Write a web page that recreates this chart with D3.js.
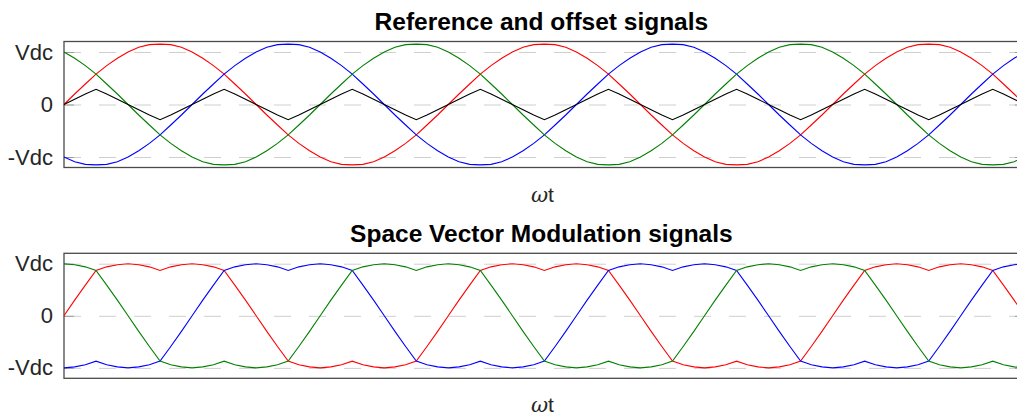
<!DOCTYPE html>
<html>
<head>
<meta charset="utf-8">
<script src="https://cdn.jsdelivr.net/npm/d3@7"></script>
<style>
  body { margin: 0; background: #fff; }
  svg { display: block; }
</style>
</head>
<body>
<script>
// one period (0..350 deg, 10 deg steps) of each signal, in units of Vdc
const angleStep = 10;
const angleEnd = 900; // 2.5 periods shown

const refRed   = [0, 0.20, 0.39, 0.58, 0.74, 0.88, 1.00, 1.09, 1.14, 1.15, 1.14, 1.09, 1.00, 0.88, 0.74, 0.58, 0.39, 0.20,
                  0, -0.20, -0.39, -0.58, -0.74, -0.88, -1.00, -1.09, -1.14, -1.15, -1.14, -1.09, -1.00, -0.88, -0.74, -0.58, -0.39, -0.20];
const refBlue  = [-1.00, -1.09, -1.14, -1.15, -1.14, -1.09, -1.00, -0.88, -0.74, -0.58, -0.39, -0.20, 0, 0.20, 0.39, 0.58, 0.74, 0.88,
                  1.00, 1.09, 1.14, 1.15, 1.14, 1.09, 1.00, 0.88, 0.74, 0.58, 0.39, 0.20, 0, -0.20, -0.39, -0.58, -0.74, -0.88];
const refGreen = [1.00, 0.88, 0.74, 0.58, 0.39, 0.20, 0, -0.20, -0.39, -0.58, -0.74, -0.88, -1.00, -1.09, -1.14, -1.15, -1.14, -1.09,
                  -1.00, -0.88, -0.74, -0.58, -0.39, -0.20, 0, 0.20, 0.39, 0.58, 0.74, 0.88, 1.00, 1.09, 1.14, 1.15, 1.14, 1.09];
// offset repeats every 120 deg
const offsetSig = [0, 0.10, 0.20, 0.29, 0.20, 0.10, 0, -0.10, -0.20, -0.29, -0.20, -0.10];

const svmRed   = [0, 0.30, 0.59, 0.87, 0.94, 0.98, 1.00, 0.98, 0.94, 0.87, 0.94, 0.98, 1.00, 0.98, 0.94, 0.87, 0.59, 0.30,
                  0, -0.30, -0.59, -0.87, -0.94, -0.98, -1.00, -0.98, -0.94, -0.87, -0.94, -0.98, -1.00, -0.98, -0.94, -0.87, -0.59, -0.30];
const svmBlue  = [-1.00, -0.98, -0.94, -0.87, -0.94, -0.98, -1.00, -0.98, -0.94, -0.87, -0.59, -0.30, 0, 0.30, 0.59, 0.87, 0.94, 0.98,
                  1.00, 0.98, 0.94, 0.87, 0.94, 0.98, 1.00, 0.98, 0.94, 0.87, 0.59, 0.30, 0, -0.30, -0.59, -0.87, -0.94, -0.98];
const svmGreen = [1.00, 0.98, 0.94, 0.87, 0.59, 0.30, 0, -0.30, -0.59, -0.87, -0.94, -0.98, -1.00, -0.98, -0.94, -0.87, -0.94, -0.98,
                  -1.00, -0.98, -0.94, -0.87, -0.59, -0.30, 0, 0.30, 0.59, 0.87, 0.94, 0.98, 1.00, 0.98, 0.94, 0.87, 0.94, 0.98];

const tickValues = [-1, 0, 1];
const tickLabels = ["-Vdc", "0", "Vdc"];

const titles = ["Reference and offset signals", "Space Vector Modulation signals"];

let svg = null;
let x = null;
const width = 1017, height = 416;
const plotLeft = 64, plotRight = 1024.8;

setupSvg();
setupXScale();

const topY = makePanel(41.5, 167.5, 29.5, 201.5, titles[0]);
drawSignal(topY, refRed, "#ff0000");
drawSignal(topY, refBlue, "#0000ff");
drawSignal(topY, refGreen, "#008000");
drawSignal(topY, offsetSig, "#000000");

const botY = makePanel(253.3, 378.3, 241.5, 411.5, titles[1]);
drawSignal(botY, svmRed, "#ff0000");
drawSignal(botY, svmBlue, "#0000ff");
drawSignal(botY, svmGreen, "#008000");

function setupSvg() {
  svg = d3.select("body").append("svg")
    .attr("width", width)
    .attr("height", height);
}

function setupXScale() {
  x = d3.scaleLinear()
    .domain([0, angleEnd])
    .range([plotLeft, plotRight]);
}

function makePanel(top, bottom, titleY, labelY, title) {
  const y = d3.scaleLinear().domain([-1.2, 1.2]).range([bottom, top]);
  const g = svg.append("g");

  // dashed grid
  g.append("g")
    .attr("transform", `translate(${plotLeft},0)`)
    .call(d3.axisLeft(y).tickValues(tickValues).tickSize(-(plotRight - plotLeft)).tickFormat(""))
    .call(s => s.select(".domain").remove())
    .selectAll("line")
    .attr("stroke", "#cfcfcf")
    .attr("stroke-dasharray", "17,18");

  // left axis, ticks inside
  g.append("g")
    .attr("transform", `translate(${plotLeft},0)`)
    .call(d3.axisLeft(y).tickValues(tickValues).tickSize(-10).tickSizeOuter(0).tickPadding(11)
      .tickFormat((d, i) => tickLabels[i]))
    .call(s => s.select(".domain").remove())
    .call(s => s.selectAll("line").attr("stroke", "#9a9a9a"))
    .call(s => s.selectAll("text")
      .attr("fill", "#262626")
      .style("font-family", "'Liberation Sans', Arial, sans-serif")
      .style("font-size", "22px"));

  // right ticks
  g.append("g")
    .attr("transform", `translate(${plotRight},0)`)
    .call(d3.axisRight(y).tickValues(tickValues).tickSize(-10).tickSizeOuter(0).tickFormat(""))
    .call(s => s.select(".domain").remove())
    .selectAll("line").attr("stroke", "#9a9a9a");

  // axes box
  g.append("rect")
    .attr("x", plotLeft)
    .attr("y", top)
    .attr("width", plotRight - plotLeft)
    .attr("height", bottom - top)
    .attr("fill", "none")
    .attr("stroke", "#4a4a4a")
    .attr("stroke-width", 1.3);

  g.append("text")
    .attr("x", (plotLeft + plotRight) / 2 - 3)
    .attr("y", titleY)
    .attr("text-anchor", "middle")
    .style("font-family", "'Liberation Sans', Arial, sans-serif")
    .style("font-weight", "bold")
    .style("font-size", "24.5px")
    .text(title);

  const lbl = g.append("text")
    .attr("x", (plotLeft + plotRight) / 2 - 2)
    .attr("y", labelY)
    .attr("text-anchor", "middle")
    .attr("fill", "#262626")
    .style("font-size", "21px");
  lbl.append("tspan")
    .style("font-family", "'DejaVu Serif', serif")
    .style("font-style", "italic")
    .text("ω");
  lbl.append("tspan")
    .style("font-family", "'Liberation Sans', Arial, sans-serif")
    .text("t");

  return y;
}

function drawSignal(y, period, color) {
  // repeat the stored period over the whole angle range
  const pts = d3.range(0, angleEnd + angleStep, angleStep)
    .map(a => ({ a: a, v: period[(a / angleStep) % period.length] }));

  const line = d3.line()
    .x(d => x(d.a))
    .y(d => y(d.v));

  svg.append("path")
    .datum(pts)
    .attr("fill", "none")
    .attr("stroke", color)
    .attr("stroke-width", 1.1)
    .attr("d", line);
}
</script>
</body>
</html>
